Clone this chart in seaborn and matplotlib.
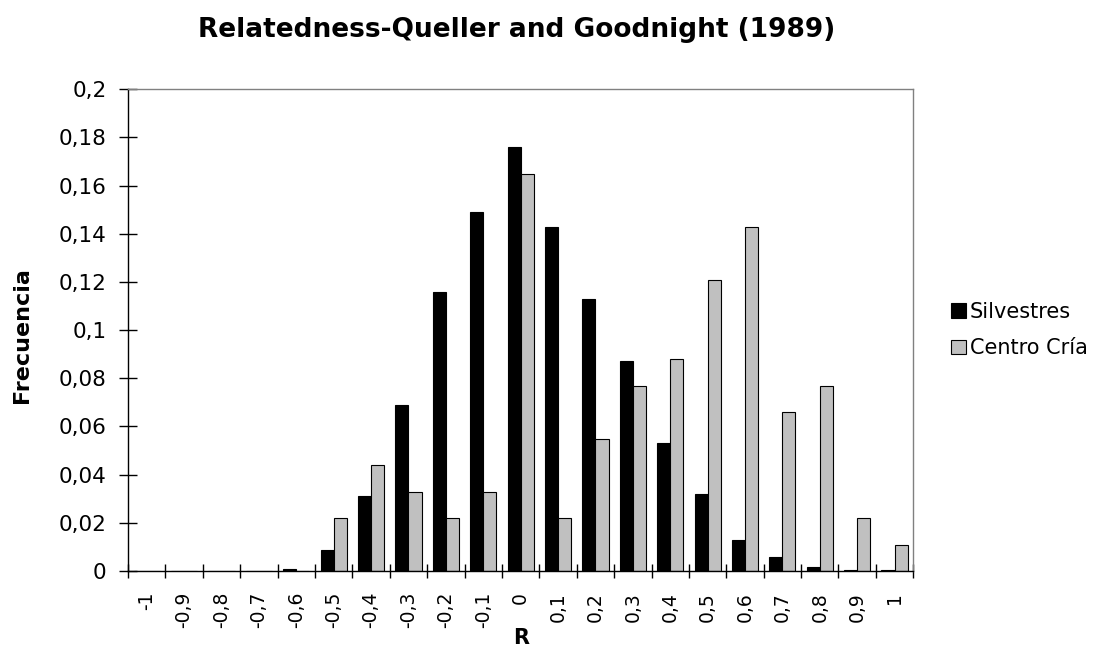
import pandas as pd
import matplotlib
matplotlib.use("Agg")
import matplotlib.pyplot as plt
import seaborn as sns
from matplotlib.ticker import FuncFormatter, FixedLocator

r_labels = ["-1", "-0,9", "-0,8", "-0,7", "-0,6", "-0,5", "-0,4", "-0,3", "-0,2", "-0,1",
            "0", "0,1", "0,2", "0,3", "0,4", "0,5", "0,6", "0,7", "0,8", "0,9", "1"]
silvestres = [0, 0, 0, 0, 0.001, 0.0087, 0.031, 0.069, 0.116, 0.149,
              0.176, 0.143, 0.113, 0.087, 0.053, 0.032, 0.013, 0.006, 0.0017, 0.0005, 0.0005]
centro_cria = [0, 0, 0, 0, 0, 0.022, 0.044, 0.033, 0.022, 0.033,
               0.165, 0.022, 0.055, 0.077, 0.088, 0.121, 0.143, 0.066, 0.077, 0.022, 0.011]
series = ["Silvestres", "Centro Cría"]
colors = ["#000000", "#c0c0c0"]

df = pd.DataFrame({
    "R": r_labels * 2,
    "Frecuencia": silvestres + centro_cria,
    "Grupo": [series[0]] * len(r_labels) + [series[1]] * len(r_labels),
})

sns.set_style("white")
plt.rcParams['font.family'] = ['DejaVu Sans']
plt.rcParams.update({"text.color": "black", "axes.labelcolor": "black",
                     "xtick.color": "black", "ytick.color": "black"})

fig = plt.figure(figsize=(10.99, 6.71), dpi=100)
ax = fig.add_axes([0.1165, 0.149, 0.7145, 0.718])

sns.barplot(data=df, x="R", y="Frecuencia", hue="Grupo", order=r_labels,
            hue_order=series, palette=colors, width=0.7, gap=0,
            edgecolor="#000000", linewidth=0.8, ax=ax)

ax.set_xlim(-0.5, len(r_labels) - 0.5)
ax.set_ylim(0, 0.2)
ax.set_yticks([i * 0.02 for i in range(11)])
ax.yaxis.set_major_formatter(FuncFormatter(
    lambda v, p: "0" if abs(v) < 1e-9 else f"{v:.2f}".rstrip("0").replace(".", ",")))

ax.set_xticks(range(len(r_labels)))
ax.set_xticklabels(r_labels, rotation=90, fontsize=13.5)
ax.xaxis.set_minor_locator(FixedLocator([i - 0.5 for i in range(len(r_labels) + 1)]))
ax.tick_params(axis="x", which="major", bottom=True, length=0, pad=15)
ax.tick_params(axis="x", which="minor", bottom=True, direction="inout", length=10,
               width=1, color="#000000")
ax.tick_params(axis="y", left=True, direction="inout", length=13, width=1,
               color="#000000", labelsize=15.5, pad=9)

for side in ["top", "right"]:
    ax.spines[side].set_color("#808080")
for side in ["left", "bottom"]:
    ax.spines[side].set_color("#000000")
for s in ax.spines.values():
    s.set_linewidth(1)

ax.set_xlabel("R", fontsize=15, fontweight="bold", va="center")
ax.xaxis.set_label_coords(0.5, -0.14)
ax.set_ylabel("Frecuencia", fontsize=16, fontweight="bold", va="center")
ax.yaxis.set_label_coords(-0.135, 0.49)
fig.text(0.47, 0.975, "Relatedness-Queller and Goodnight (1989)", ha="center", va="top",
         fontsize=19, fontweight="bold")

leg = ax.legend(loc="center left", bbox_to_anchor=(1.035, 0.5), frameon=False,
                fontsize=15, handlelength=0.7, handleheight=0.7, handletextpad=0.2,
                labelspacing=0.8, borderpad=0)

fig.savefig("out.png", dpi=100)
